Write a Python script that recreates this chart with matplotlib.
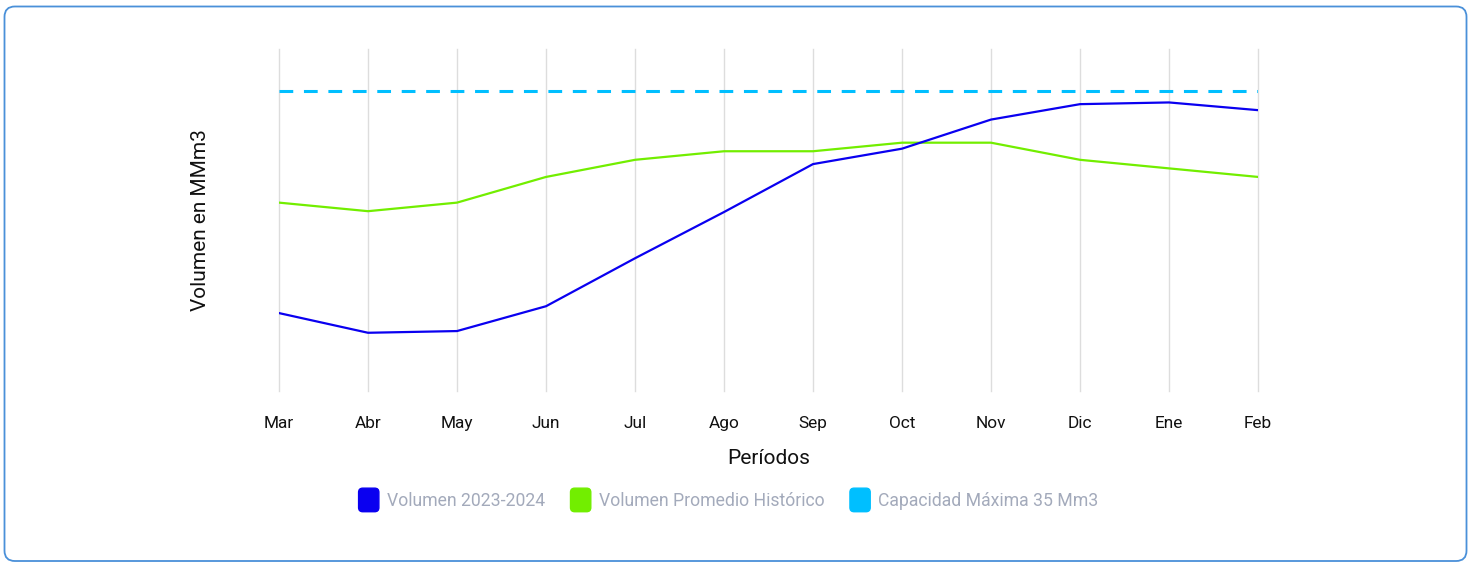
import matplotlib
matplotlib.use("Agg")
import matplotlib.pyplot as plt
from matplotlib.patches import FancyBboxPatch, Patch
from matplotlib.legend_handler import HandlerPatch

plt.rcParams['font.family'] = ['Roboto', 'DejaVu Sans']

periodos = ["Mar", "Abr", "May", "Jun", "Jul", "Ago", "Sep", "Oct", "Nov", "Dic", "Ene", "Feb"]
volumen_2023_2024 = [9.1, 6.8, 7.0, 9.9, 15.5, 20.9, 26.5, 28.3, 31.7, 33.5, 33.7, 32.8]
volumen_promedio = [22, 21, 22, 25, 27, 28, 28, 29, 29, 27, 26, 25]
capacidad_maxima = 35

c_blue = "#0a00f0"
c_green = "#72ee00"
c_cyan = "#00bfff"

W, H = 1477, 563
fig = plt.figure(figsize=(W / 100, H / 100), dpi=100)

# rounded card border
border = FancyBboxPatch((4.5 / W, 1 - 561 / H), (1466.5 - 4.5) / W, (561 - 6.5) / H,
                        boxstyle="round,pad=0,rounding_size=0.007",
                        transform=fig.transFigure, facecolor="none",
                        edgecolor="#4a90d9", linewidth=1.3, mutation_aspect=W / H,
                        zorder=-1)
fig.patches.append(border)

ax = fig.add_axes([279 / W, 1 - 391 / H, (1258 - 279) / W, (391 - 48.5) / H])
ax.set_facecolor("none")
x = list(range(len(periodos)))
ax.plot(x, [capacidad_maxima] * len(x), color=c_cyan, lw=2.2, ls=(0, (4.5, 3.5)), zorder=3)
ax.plot(x, volumen_promedio, color=c_green, lw=1.6, zorder=3)
ax.plot(x, volumen_2023_2024, color=c_blue, lw=1.6, zorder=4)

ax.set_xlim(0, len(x) - 1)
ax.set_ylim(0, 40)
ax.set_xticks(x)
ax.set_xticklabels(periodos, fontsize=12.4, color="#111111")
ax.set_yticks([])
ax.tick_params(axis='x', length=0, pad=18)
ax.grid(axis='x', color="#dddddd", lw=1)
for s in ax.spines.values():
    s.set_visible(False)
for ln in ax.get_xgridlines():
    ln.set_clip_on(False)

ax.set_xlabel("Períodos", fontsize=15, color="#111111", labelpad=13)
ax.set_ylabel("Volumen en MMm3", fontsize=15, color="#111111", labelpad=50)


def make_round(legend, orig_handle, xdescent, ydescent, width, height, fontsize):
    return FancyBboxPatch((-xdescent, -ydescent - 3), width, height + 6,
                          boxstyle="round,pad=0,rounding_size=3")


handles = [Patch(facecolor=c_blue, edgecolor=c_blue),
           Patch(facecolor=c_green, edgecolor=c_green),
           Patch(facecolor=c_cyan, edgecolor=c_cyan)]
labels = ["Volumen 2023-2024", "Volumen Promedio Histórico", "Capacidad Máxima 35 Mm3"]
leg = fig.legend(handles, labels, loc="center", bbox_to_anchor=(728.5 / W, 1 - 501 / H),
                 ncol=3, frameon=False, fontsize=12.7, labelcolor="#a3aabb",
                 handlelength=1.15, handleheight=0.95, handletextpad=0.45, columnspacing=1.45,
                 handler_map={Patch: HandlerPatch(patch_func=make_round)})

fig.savefig("out.png", dpi=100)
